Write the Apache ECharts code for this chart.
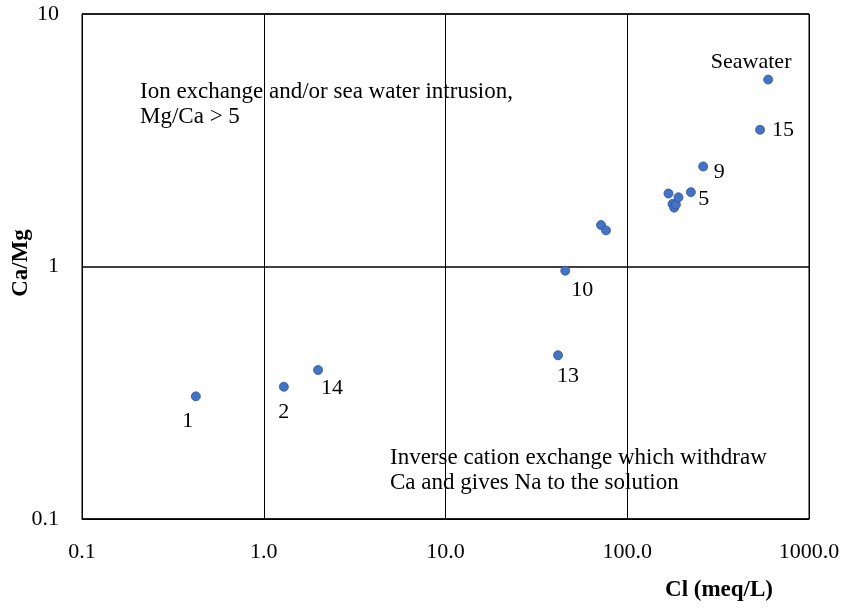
<!DOCTYPE html>
<html>
<head>
<meta charset="utf-8">
<script src="https://cdn.jsdelivr.net/npm/echarts@6/dist/echarts.min.js"></script>
<style>
	html, body { margin: 0; padding: 0; background: #fff; }
	#chart { width: 842px; height: 610px; }
</style>
</head>
<body>
<div id="chart"></div>
<script>
// data
var clValues = [0.423, 1.29, 1.99, 41.6, 45.6, 71.7, 76.4, 168.6, 177.4, 181.2, 185.2, 191.4, 223.9, 261.6, 538, 596];
var caMgValues = [0.306, 0.334, 0.389, 0.445, 0.962, 1.46, 1.39, 1.945, 1.77, 1.71, 1.76, 1.88, 1.97, 2.49, 3.48, 5.50];
var pointNames = ['1', '2', '14', '13', '10', '', '', '', '', '', '', '', '5', '9', '15', 'Seawater'];

var xTicks = [0.1, 1, 10, 100, 1000];
var xTickLabels = ['0.1', '1.0', '10.0', '100.0', '1000.0'];
var yTicks = [0.1, 1, 10];
var yTickLabels = ['0.1', '1', '10'];

var noteTop = ['Ion exchange and/or sea water intrusion,', 'Mg/Ca > 5'];
var noteBottom = ['Inverse cation exchange which withdraw', 'Ca and gives Na to the solution'];

// label placement around each point (dx, dy from the marker centre)
var labelOffsets = {
	'1': [-8, 25], '2': [0, 25], '14': [14, 18], '13': [10, 21], '10': [17, 19],
	'5': [13, 7], '9': [16, 6], '15': [23, 0], 'Seawater': [-17, -17]
};

var serif = '"Liberation Serif", "Times New Roman", serif';

function tickText(ticks, labels, v) {
	for (var i = 0; i < ticks.length; i++) {
		if (Math.abs(Math.log10(v) - Math.log10(ticks[i])) < 1e-6) return labels[i];
	}
	return '';
}

var points = clValues.map(function (x, i) {
	var name = pointNames[i];
	var item = { value: [x, caMgValues[i]], name: name };
	if (name) {
		item.label = { show: true, position: 'inside', offset: labelOffsets[name], formatter: name };
	}
	return item;
});

var chart = echarts.init(document.getElementById('chart'), null, { renderer: 'canvas' });
chart.setOption({
	animation: false,
	backgroundColor: '#fff',
	textStyle: { fontFamily: serif },
	grid: {
		left: 82, right: 33, top: 14, bottom: 91,
		containLabel: false, outerBoundsMode: 'none',
		show: true, borderColor: '#000', borderWidth: 1
	},
	xAxis: {
		type: 'log', logBase: 10, min: 0.1, max: 1000,
		axisLine: { show: true, lineStyle: { color: '#000', width: 1 } },
		axisTick: { show: false },
		splitLine: { show: true, lineStyle: { color: '#000', width: 1 } },
		axisLabel: {
			color: '#000', fontFamily: serif, fontSize: 22, margin: 22,
			formatter: function (v) { return tickText(xTicks, xTickLabels, v); }
		}
	},
	yAxis: {
		type: 'log', logBase: 10, min: 0.1, max: 10,
		axisLine: { show: true, lineStyle: { color: '#000', width: 1 } },
		axisTick: { show: false },
		splitLine: { show: true, lineStyle: { color: '#000', width: 1.5 } },
		axisLabel: {
			color: '#000', fontFamily: serif, fontSize: 22, margin: 23,
			formatter: function (v) { return tickText(yTicks, yTickLabels, v); }
		}
	},
	graphic: [
		{
			type: 'text', left: 140, top: 79,
			style: { text: noteTop.join('\n'), font: '23px ' + serif, fill: '#000', lineHeight: 25 }
		},
		{
			type: 'text', left: 390, top: 445,
			style: { text: noteBottom.join('\n'), font: '23px ' + serif, fill: '#000', lineHeight: 25 }
		},
		{
			type: 'text', x: 719, y: 590,
			style: { text: 'Cl (meq/L)', font: 'bold 23px ' + serif, fill: '#000', align: 'center', verticalAlign: 'middle' }
		},
		{
			type: 'text', x: 21, y: 263, rotation: Math.PI / 2,
			style: { text: 'Ca/Mg', font: 'bold 23px ' + serif, fill: '#000', align: 'center', verticalAlign: 'middle' }
		}
	],
	series: [{
		type: 'scatter',
		symbol: 'circle',
		symbolSize: 9,
		itemStyle: { color: '#4472C4', borderColor: '#2F5597', borderWidth: 0.8, opacity: 1 },
		label: { show: false, color: '#000', fontFamily: serif, fontSize: 22 },
		data: points
	}]
});
</script>
</body>
</html>
